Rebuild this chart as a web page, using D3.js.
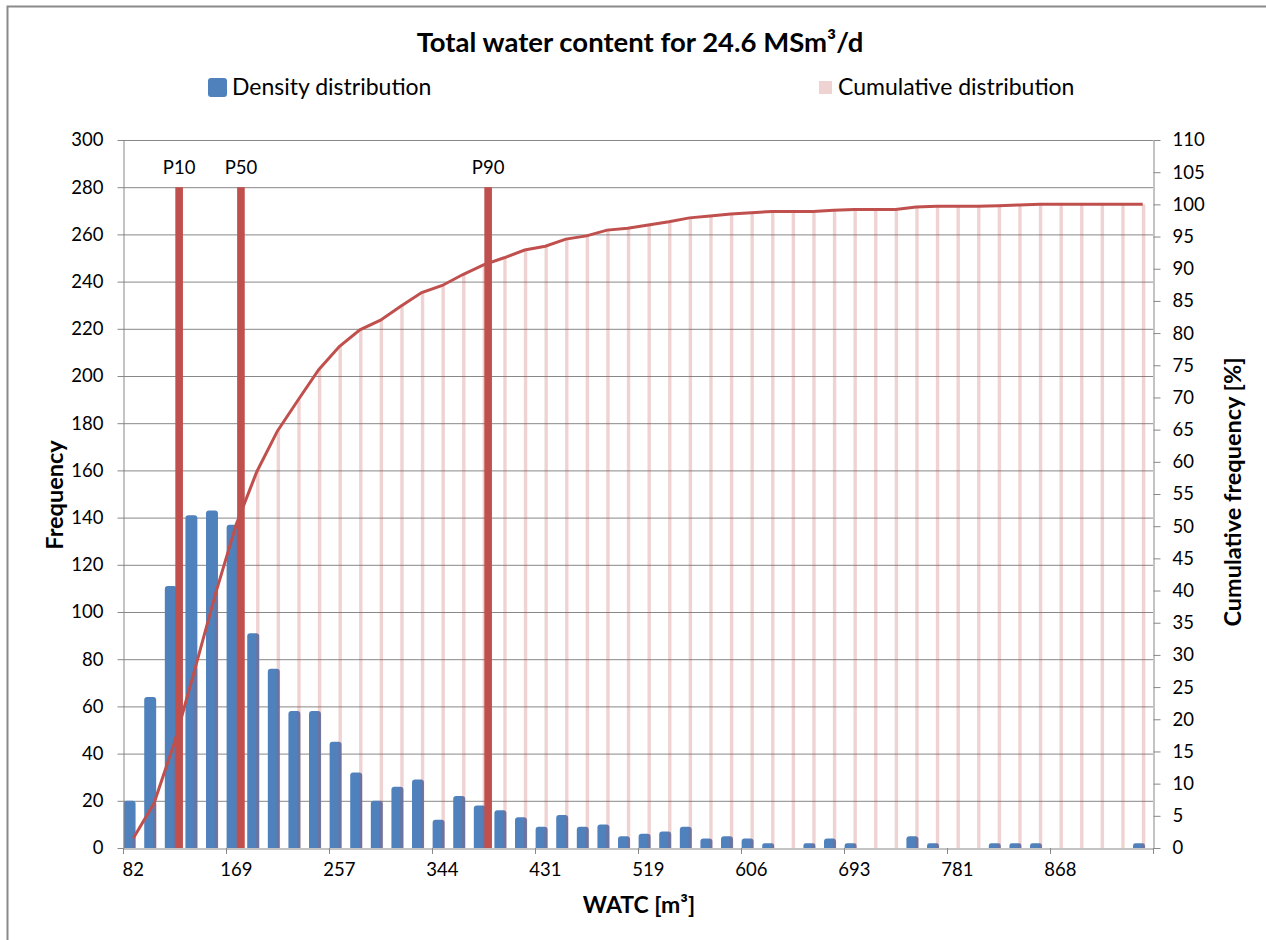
<!DOCTYPE html>
<html>
<head>
<meta charset="utf-8">
<script src="https://cdn.jsdelivr.net/npm/d3@7"></script>
<style>
  html, body { margin: 0; padding: 0; background: #fff; }
  svg { display: block; font-family: Lato, "Open Sans", sans-serif; }
</style>
</head>
<body>
<svg id="chart" width="1266" height="940"></svg>
<script>
// ---- data ----
const categories = ["82","99","117","134","152","169","187","204","222","239",
  "257","274","292","309","327","344","361","379","396","414",
  "431","449","466","484","501","519","536","554","571","589",
  "606","623","641","658","676","693","711","728","746","763",
  "781","798","816","833","851","868","885","903","920","938"];
const frequency = [20,64,111,141,143,137,91,76,58,58,
  45,32,20,26,29,12,22,18,16,13,
  9,14,9,10,5,6,7,9,4,5,
  4,2,0,2,4,2,0,0,5,2,
  0,0,2,2,2,0,0,0,0,2];
const cumulative = [1.5,6.9,16.4,27.9,39.6,50.3,58.5,64.8,69.6,74.3,
  77.9,80.5,82.0,84.2,86.3,87.4,89.1,90.6,91.7,92.9,
  93.5,94.6,95.1,96.0,96.3,96.8,97.3,97.9,98.2,98.5,
  98.7,98.9,98.9,98.9,99.1,99.2,99.2,99.2,99.6,99.7,
  99.7,99.7,99.8,99.9,100,100,100,100,100,100];
const xTickLabels = ["82","169","257","344","431","519","606","693","781","868"];
const freqTicks = [0,20,40,60,80,100,120,140,160,180,200,220,240,260,280,300];
const pctTicks = [0,5,10,15,20,25,30,35,40,45,50,55,60,65,70,75,80,85,90,95,100,105,110];
const percentileLabels = ["P10","P50","P90"];
const percentileBins = ["117","169","379"];
const percentileValues = [280,280,280];

// ---- layout ----
const svg = d3.select("#chart");
const L = 123, R = 1153, T = 140, B = 848;
const blue = "#4F81BD", red = "#C0504D", grid = "#888888";

const x = d3.scaleBand().domain(categories).range([L, R]).padding(0);
const bw = x.bandwidth();
const yL = d3.scaleLinear().domain([0, 300]).range([B, T]);
const yR = d3.scaleLinear().domain([0, 110]).range([B, T]);

// chart border
svg.append("rect").attr("x", 7.5).attr("y", 6.5).attr("width", 1300).attr("height", 1000)
  .attr("fill", "none").attr("stroke", "#8a8a8a").attr("stroke-width", 2);

// title
svg.append("text").attr("x", 640).attr("y", 52).attr("text-anchor", "middle")
  .attr("font-weight", "bold").attr("font-size", 27.5).attr("fill", "#000")
  .text("Total water content for 24.6 MSm³/d");

// legend
svg.append("rect").attr("x", 208).attr("y", 78).attr("width", 19).attr("height", 19)
  .attr("rx", 3).attr("fill", blue);
svg.append("text").attr("x", 232).attr("y", 95).attr("font-size", 23).attr("fill", "#000")
  .text("Density distribution");
svg.append("rect").attr("x", 819).attr("y", 81).attr("width", 13).attr("height", 13)
  .attr("fill", red).attr("fill-opacity", 0.25);
svg.append("text").attr("x", 838).attr("y", 95).attr("font-size", 23).attr("fill", "#000")
  .text("Cumulative distribution");

// gridlines
svg.append("g").selectAll("line").data(freqTicks.filter(d => d > 0)).join("line")
  .attr("x1", L).attr("x2", R).attr("y1", d => yL(d) + 0.5).attr("y2", d => yL(d) + 0.5)
  .attr("stroke", grid).attr("stroke-width", 1);

// density bars (rounded top)
function topRounded(x0, y0, w, h, r) {
  r = Math.min(r, h / 2, w / 2);
  return `M${x0},${y0 + h}V${y0 + r}Q${x0},${y0} ${x0 + r},${y0}H${x0 + w - r}Q${x0 + w},${y0} ${x0 + w},${y0 + r}V${y0 + h}Z`;
}
svg.append("g").selectAll("path").data(categories.map((c, i) => ({c, v: frequency[i]})).filter(d => d.v > 0))
  .join("path")
  .attr("d", d => topRounded(x(d.c) + bw * 0.03, yL(d.v), bw * 0.58, B - yL(d.v), 3))
  .attr("fill", blue);

// percentile bars
svg.append("g").selectAll("rect").data(percentileBins.map((c, i) => ({c, v: percentileValues[i]})))
  .join("rect")
  .attr("x", d => x(d.c) + bw * 0.54).attr("width", bw * 0.37)
  .attr("y", d => yL(d.v)).attr("height", d => B - yL(d.v))
  .attr("fill", red);
svg.append("g").selectAll("text").data(percentileBins.map((c, i) => ({c, t: percentileLabels[i], v: percentileValues[i]})))
  .join("text")
  .attr("x", d => x(d.c) + bw * 0.725).attr("y", d => yL(d.v) - 13)
  .attr("text-anchor", "middle").attr("font-size", 18.5).attr("fill", "#000")
  .text(d => d.t);

// cumulative bars (secondary axis)
svg.append("g").selectAll("rect").data(categories.map((c, i) => ({c, v: cumulative[i]})))
  .join("rect")
  .attr("x", d => x(d.c) + bw * 0.46).attr("width", bw * 0.165)
  .attr("y", d => yR(d.v)).attr("height", d => B - yR(d.v))
  .attr("fill", red).attr("fill-opacity", 0.25);

// cumulative line
const line = d3.line().x((d, i) => x(categories[i]) + bw / 2).y(d => yR(d));
svg.append("path").datum(cumulative).attr("d", line)
  .attr("fill", "none").attr("stroke", red).attr("stroke-width", 3).attr("stroke-linejoin", "miter");

// left axis
const gL = svg.append("g").attr("transform", `translate(${L + 0.5},0)`)
  .call(d3.axisLeft(yL).tickValues(freqTicks).tickSize(6).tickPadding(14).tickSizeOuter(0));
// right axis
const gR = svg.append("g").attr("transform", `translate(${R + 0.5},0)`)
  .call(d3.axisRight(yR).tickValues(pctTicks).tickSize(7).tickPadding(12).tickSizeOuter(0));
// bottom axis (labels at band centres)
const gB = svg.append("g").attr("transform", `translate(0,${B + 0.5})`)
  .call(d3.axisBottom(x).tickValues(xTickLabels).tickSize(0).tickPadding(14).tickSizeOuter(0));
// bottom tick marks at band boundaries every 5 categories
const tickPos = xTickLabels.map(c => x(c)).concat([R]);
svg.append("g").selectAll("line").data(tickPos).join("line")
  .attr("x1", d => Math.round(d) + 0.5).attr("x2", d => Math.round(d) + 0.5)
  .attr("y1", B).attr("y2", B + 6).attr("stroke", grid);

[gL, gR, gB].forEach(g => {
  g.selectAll("path.domain").attr("stroke", grid);
  g.selectAll(".tick line").attr("stroke", grid);
  g.selectAll("text").attr("font-size", 18.5).attr("fill", "#000").attr("font-family", "Lato, sans-serif");
});

// axis titles
svg.append("text").attr("transform", "translate(63,495) rotate(-90)").attr("text-anchor", "middle")
  .attr("font-weight", "bold").attr("font-size", 23.5).attr("fill", "#000").text("Frequency");
svg.append("text").attr("transform", "translate(1241,492) rotate(-90)").attr("text-anchor", "middle")
  .attr("font-weight", "bold").attr("font-size", 23.5).attr("fill", "#000").text("Cumulative frequency [%]");
svg.append("text").attr("x", 639).attr("y", 913).attr("text-anchor", "middle")
  .attr("font-weight", "bold").attr("font-size", 23).attr("fill", "#000").text("WATC [m³]");
</script>
</body>
</html>
